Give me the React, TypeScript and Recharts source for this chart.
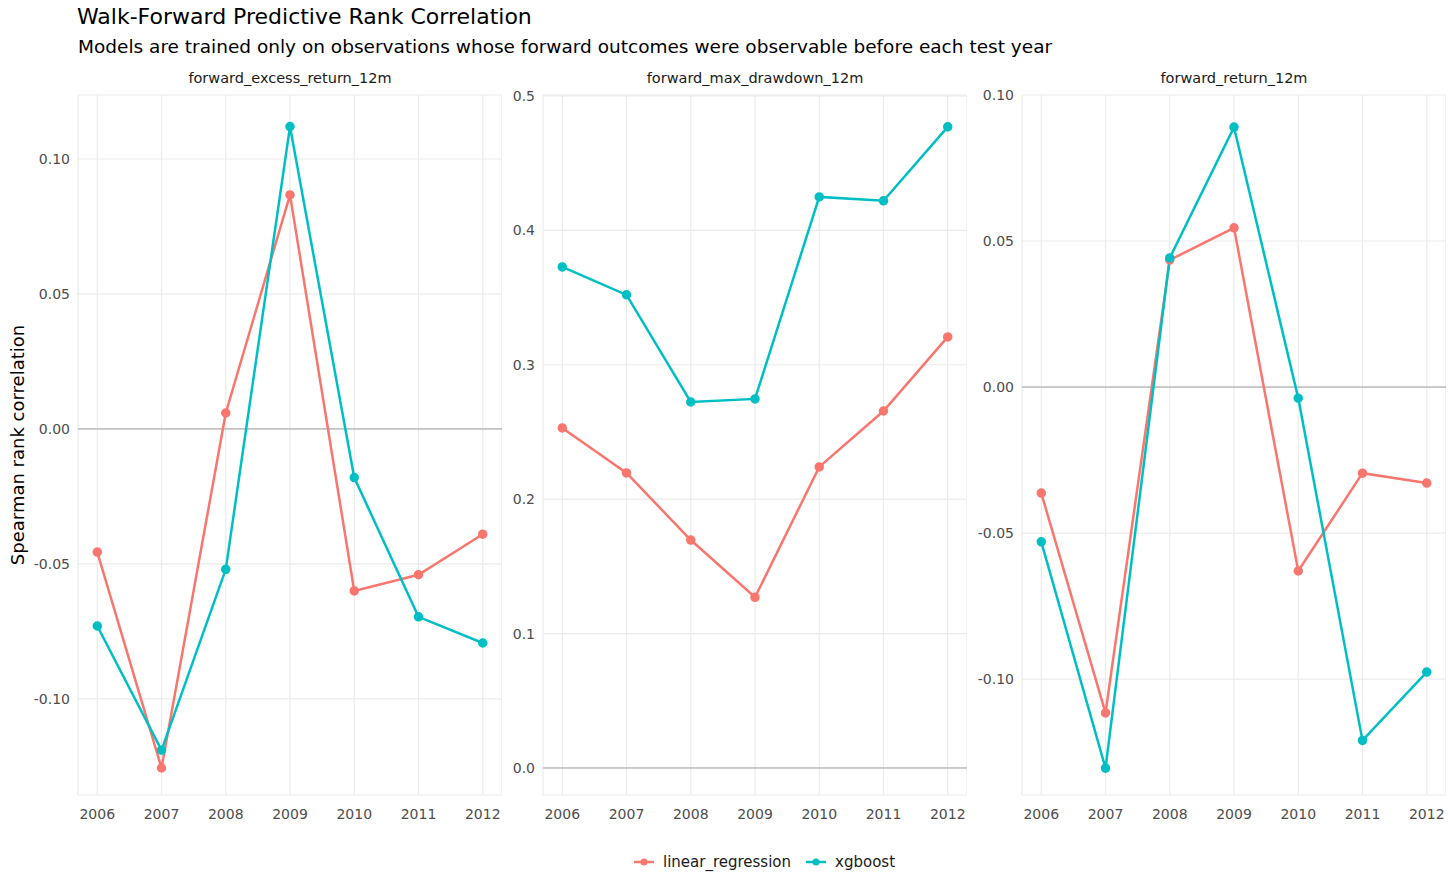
import { CartesianGrid, Line, LineChart, ReferenceLine, XAxis, YAxis } from "recharts";

const YEARS = [2006, 2007, 2008, 2009, 2010, 2011, 2012];

const EXCESS_LINEAR = [-0.0456, -0.1256, 0.0059, 0.0867, -0.06, -0.054, -0.039];
const EXCESS_XGB = [-0.073, -0.119, -0.052, 0.112, -0.018, -0.0696, -0.0793];
const DRAWDOWN_LINEAR = [0.253, 0.2195, 0.1696, 0.127, 0.224, 0.2656, 0.3207];
const DRAWDOWN_XGB = [0.3728, 0.352, 0.2723, 0.2746, 0.4249, 0.422, 0.477];
const RETURN_LINEAR = [-0.0363, -0.1116, 0.0435, 0.0545, -0.063, -0.0295, -0.0329];
const RETURN_XGB = [-0.053, -0.1305, 0.0442, 0.089, -0.0038, -0.121, -0.0976];

const EXCESS_TICKS = [-0.1, -0.05, 0, 0.05, 0.1];
const DRAWDOWN_TICKS = [0, 0.1, 0.2, 0.3, 0.4, 0.5];
const RETURN_TICKS = [-0.1, -0.05, 0, 0.05, 0.1];

const RED = "#F8766D";
const TEAL = "#00BFC4";
const FONT = "'DejaVu Sans', sans-serif";

const PLOT_TOP = 95;
const PLOT_H = 700;
const PLOT_W = 424;
const Y_W = 62;
const PAD = 12;

function buildRows(linear: number[], xgb: number[]) {
  return YEARS.map((year, i) => ({ year, linear: linear[i], xgb: xgb[i] }));
}

function Panel({
  title,
  left,
  linear,
  xgb,
  ticks,
  domain,
  digits,
}: {
  title: string;
  left: number;
  linear: number[];
  xgb: number[];
  ticks: number[];
  domain: [number, number];
  digits: number;
}) {
  const data = buildRows(linear, xgb);
  const tick = { fill: "#4d4d4d", fontSize: 14, fontFamily: FONT };
  return (
    <>
      <div
        style={{
          position: "absolute",
          left,
          width: PLOT_W,
          top: 70,
          textAlign: "center",
          fontSize: 14.5,
          color: "#1a1a1a",
        }}
      >
        {title}
      </div>
      <div style={{ position: "absolute", left: left - Y_W, top: PLOT_TOP - PAD }}>
        <LineChart
          width={PLOT_W + Y_W}
          height={PLOT_H + 30 + PAD}
          data={data}
          margin={{ top: PAD, right: 0, bottom: 0, left: 0 }}
        >
          <CartesianGrid stroke="#ebebeb" strokeWidth={1.2} />
          <XAxis
            dataKey="year"
            type="number"
            domain={[2005.7, 2012.3]}
            ticks={YEARS}
            axisLine={false}
            tickLine={false}
            tick={tick}
            height={30}
            tickMargin={8}
          />
          <YAxis
            type="number"
            domain={domain}
            ticks={ticks}
            allowDataOverflow
            axisLine={false}
            tickLine={false}
            tick={tick}
            width={Y_W}
            tickFormatter={(v: number) => v.toFixed(digits)}
          />
          <ReferenceLine y={0} stroke="#a0a0a0" strokeWidth={1} />
          <Line
            dataKey="linear"
            stroke={RED}
            strokeWidth={2.5}
            dot={{ r: 3.5, fill: RED, stroke: RED }}
            isAnimationActive={false}
          />
          <Line
            dataKey="xgb"
            stroke={TEAL}
            strokeWidth={2.5}
            dot={{ r: 3.5, fill: TEAL, stroke: TEAL }}
            isAnimationActive={false}
          />
        </LineChart>
      </div>
    </>
  );
}

export default function App() {
  return (
    <div
      style={{
        position: "absolute",
        left: 0,
        top: 0,
        width: 1456,
        height: 896,
        background: "#fff",
        fontFamily: FONT,
      }}
    >
      <div style={{ position: "absolute", left: 77, top: 4, fontSize: 22, color: "#000" }}>
        Walk-Forward Predictive Rank Correlation
      </div>
      <div style={{ position: "absolute", left: 78, top: 36, fontSize: 18.5, color: "#000" }}>
        Models are trained only on observations whose forward outcomes were observable before each test year
      </div>
      <div
        style={{
          position: "absolute",
          left: 17,
          top: 445,
          fontSize: 18,
          transform: "translate(-50%, -50%) rotate(-90deg)",
          whiteSpace: "nowrap",
        }}
      >
        Spearman rank correlation
      </div>
      <Panel
        title="forward_excess_return_12m"
        left={78}
        linear={EXCESS_LINEAR}
        xgb={EXCESS_XGB}
        ticks={EXCESS_TICKS}
        domain={[-0.1356, 0.1237]}
        digits={2}
      />
      <Panel
        title="forward_max_drawdown_12m"
        left={543}
        linear={DRAWDOWN_LINEAR}
        xgb={DRAWDOWN_XGB}
        ticks={DRAWDOWN_TICKS}
        domain={[-0.0201, 0.5007]}
        digits={1}
      />
      <Panel
        title="forward_return_12m"
        left={1022}
        linear={RETURN_LINEAR}
        xgb={RETURN_XGB}
        ticks={RETURN_TICKS}
        domain={[-0.1397, 0.1]}
        digits={2}
      />
      <div
        style={{
          position: "absolute",
          top: 853,
          left: 0,
          width: 1456,
          display: "flex",
          justifyContent: "center",
          gap: 14,
          fontSize: 15,
          color: "#1a1a1a",
          paddingLeft: 72,
          boxSizing: "border-box",
        }}
      >
        {[
          { label: "linear_regression", color: RED },
          { label: "xgboost", color: TEAL },
        ].map((d) => (
          <span key={d.label} style={{ display: "flex", alignItems: "center", gap: 8 }}>
            <svg width={22} height={10}>
              <line x1={1} y1={5} x2={21} y2={5} stroke={d.color} strokeWidth={2.5} />
              <circle cx={11} cy={5} r={3.5} fill={d.color} />
            </svg>
            {d.label}
          </span>
        ))}
      </div>
    </div>
  );
}
